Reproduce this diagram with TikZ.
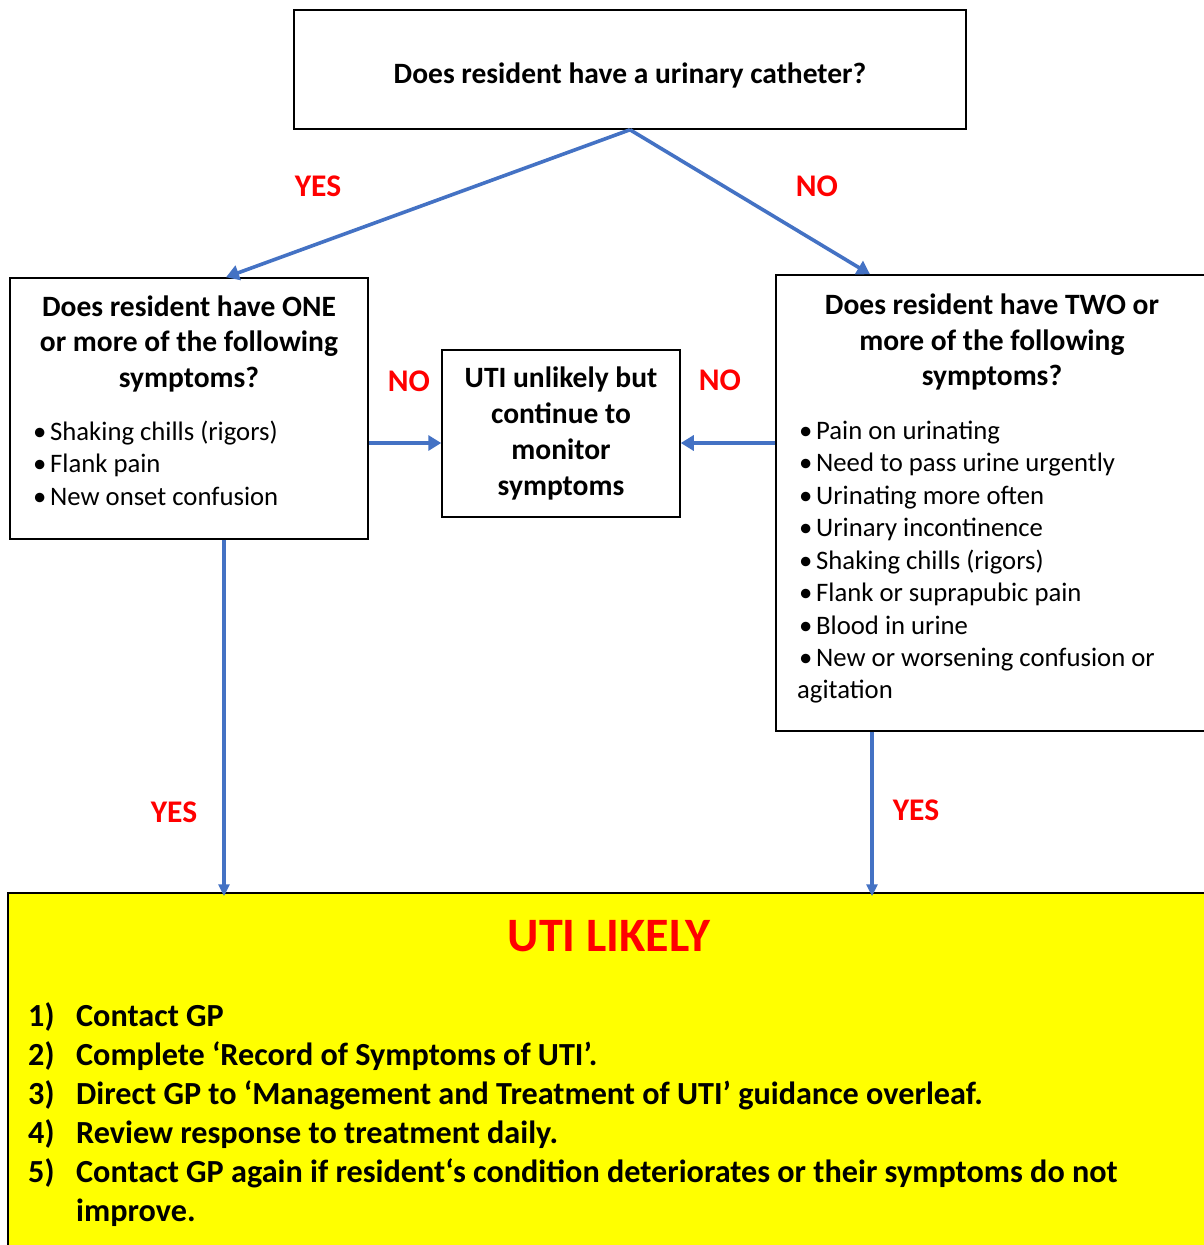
\documentclass[tikz,border=0pt]{standalone}
\usepackage{fontspec}
\setmainfont{Carlito}
\usetikzlibrary{arrows.meta}
\definecolor{arrblue}{RGB}{68,114,196}
\definecolor{yel}{RGB}{255,255,0}
\newcommand\bulmark{\makebox[17pt][l]{•}}
\begin{document}
\begin{tikzpicture}[x=1pt,y=-1pt,
 box/.style={draw=black, line width=1.5pt, inner sep=0pt},
 arr/.style={draw=arrblue, line width=3.6pt, -{Triangle[length=13pt,width=15pt]}},
 arrv/.style={draw=arrblue, line width=3.2pt, -{Triangle[length=12pt,width=11pt]}},
 lab/.style={text=red, font=\fontsize{31.5}{34}\selectfont\bfseries, anchor=base, inner sep=0pt},
 head/.style={font=\fontsize{29.5}{36}\selectfont\bfseries, anchor=base, inner sep=0pt},
 bul/.style={font=\fontsize{26.7}{32}\selectfont, anchor=base west, inner sep=0pt},
 itm/.style={font=\fontsize{32.2}{39}\selectfont\bfseries, anchor=base west, inner sep=0pt}]

\clip (0,0) rectangle (1204,1245);
\fill[white] (0,0) rectangle (1204,1245);

% boxes
\node[box, minimum width=672pt, minimum height=119pt] (top) at (630,69.5) {};
\node[box, minimum width=358pt, minimum height=261pt] (left) at (189,408.5) {};
\node[box, minimum width=238pt, minimum height=167pt] (mid) at (561,433.5) {};
\node[box, minimum width=439pt, minimum height=456pt] (right) at (995.5,503) {};
\node[box, fill=yel, minimum width=1207pt, minimum height=367pt] (like) at (611.5,1076.5) {};

% connectors
\draw[arr] (top.south) -- ([xshift=37pt]left.north);
\draw[arr] (top.south) -- ([xshift=-125.5pt]right.north);
\draw[arr] ([yshift=-34.5pt]left.east) coordinate (a1) -- (a1 -| mid.west);
\draw[arr] ([yshift=60pt]right.west) coordinate (a2) -- (a2 -| mid.east);
\draw[arrv, shorten >=-4pt] ([xshift=35pt]left.south) coordinate (d1) -- (d1 |- like.north);
\draw[arrv, shorten >=-4pt] ([xshift=-123.5pt]right.south) coordinate (d2) -- (d2 |- like.north);

% labels
\node[lab] (l1) at (318,196) {YES};
\node[lab] (l2) at (817,196) {NO};
\node[lab] (l3) at (409,391) {NO};
\node[lab] (l4) at (720,390) {NO};
\node[lab] (l5) at (174,822) {YES};
\node[lab] (l6) at (916,820) {YES};

% top text
\node[head] (t0) at (630,83) {Does resident have a urinary catheter?};

% left box
\node[head] (lh1) at (189,316) {Does resident have ONE};
\node[head] (lh2) at (189,351) {or more of the following};
\node[head] (lh3) at (189,387) {symptoms?};
\node[bul] (lb1) at (33,440) {\bulmark Shaking chills (rigors)};
\node[bul] (lb2) at (33,472) {\bulmark Flank pain};
\node[bul] (lb3) at (33,505) {\bulmark New onset confusion};

% middle box
\node[head] (m1) at (561,387) {UTI unlikely but};
\node[head] (m2) at (561,423) {continue to};
\node[head] (m3) at (561,459) {monitor};
\node[head] (m4) at (561,495) {symptoms};

% right box
\node[head] (rh1) at (992,314) {Does resident have TWO or};
\node[head] (rh2) at (992,350) {more of the following};
\node[head] (rh3) at (992,385) {symptoms?};
\node[bul] (rb1) at (799,439) {\bulmark Pain on urinating};
\node[bul] (rb2) at (799,471) {\bulmark Need to pass urine urgently};
\node[bul] (rb3) at (799,504) {\bulmark Urinating more often};
\node[bul] (rb4) at (799,536) {\bulmark Urinary incontinence};
\node[bul] (rb5) at (799,569) {\bulmark Shaking chills (rigors)};
\node[bul] (rb6) at (799,601) {\bulmark Flank or suprapubic pain};
\node[bul] (rb7) at (799,634) {\bulmark Blood in urine};
\node[bul] (rb8) at (799,666) {\bulmark New or worsening confusion or};
\node[bul] (rb9) at (797,698) {agitation};

% yellow box
\node[text=red, font=\fontsize{48}{52}\selectfont\bfseries, anchor=base, inner sep=0pt] (ut) at (609,951) {UTI LIKELY};
\node[itm] (n1) at (28,1026) {1)};
\node[itm] (i1) at (76,1026) {Contact GP};
\node[itm] (n2) at (28,1065) {2)};
\node[itm] (i2) at (76,1065) {Complete ‘Record of Symptoms of UTI’.};
\node[itm] (n3) at (28,1104) {3)};
\node[itm] (i3) at (76,1104) {Direct GP to ‘Management and Treatment of UTI’ guidance overleaf.};
\node[itm] (n4) at (28,1143) {4)};
\node[itm] (i4) at (76,1143) {Review response to treatment daily.};
\node[itm] (n5) at (28,1182) {5)};
\node[itm] (i5) at (76,1182) {Contact GP again if resident‘s condition deteriorates or their symptoms do not};
\node[itm] (i6) at (76,1221) {improve.};
\end{tikzpicture}
\end{document}
